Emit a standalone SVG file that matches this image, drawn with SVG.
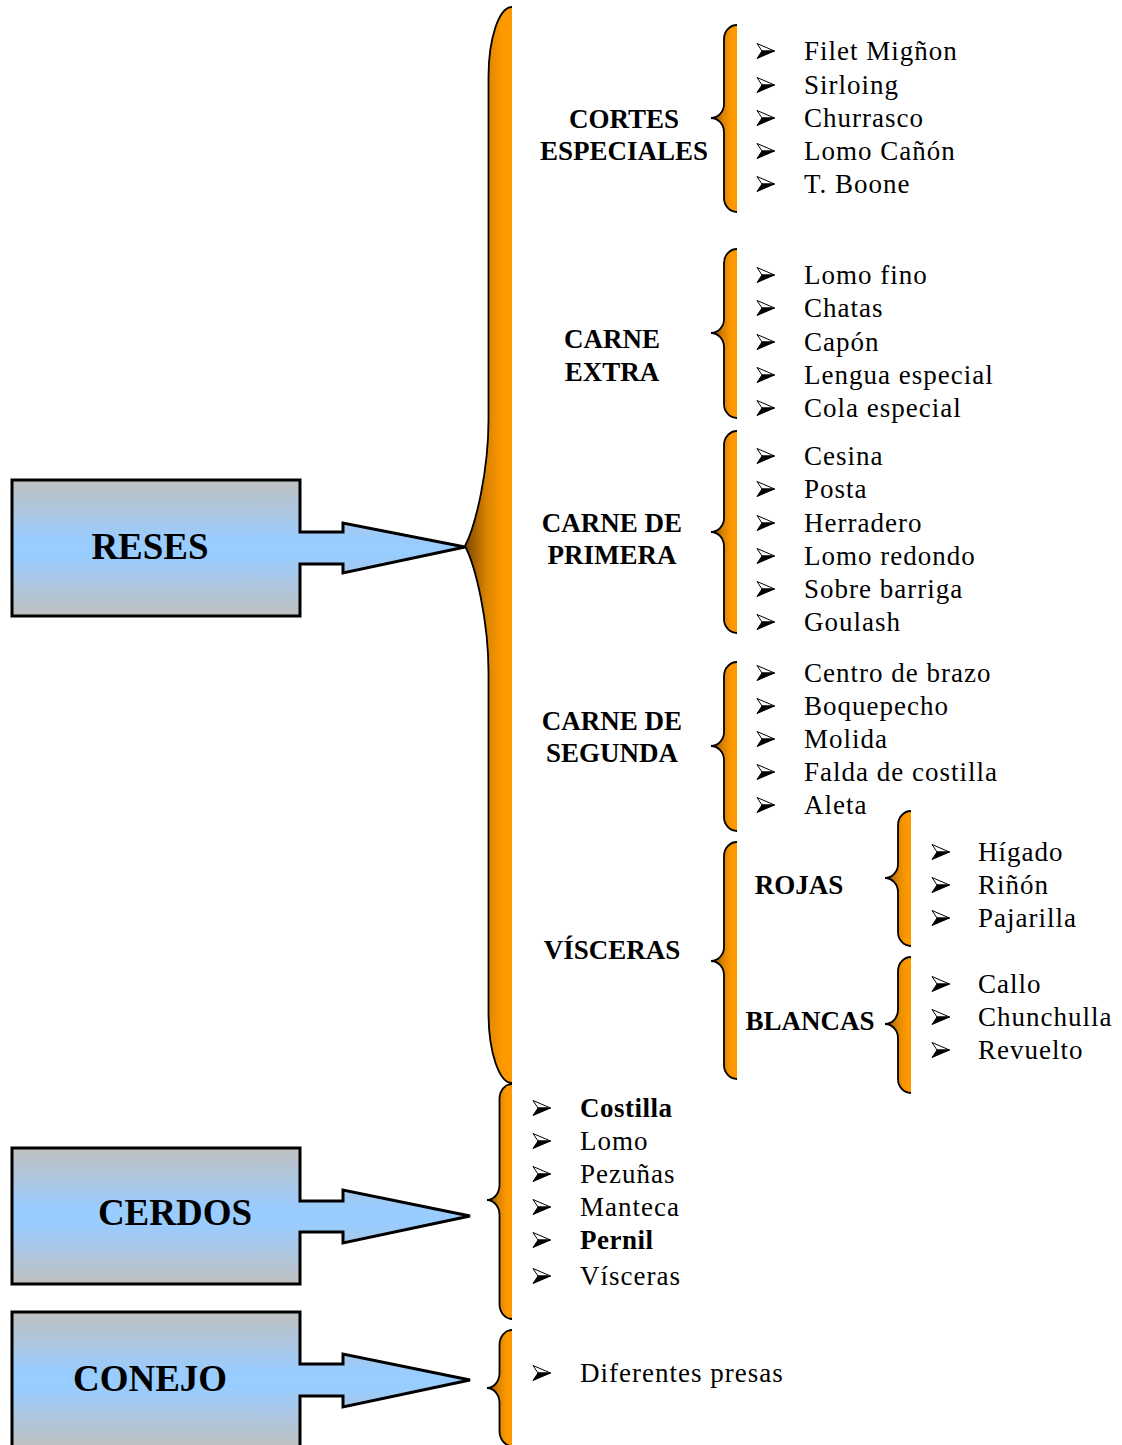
<svg xmlns="http://www.w3.org/2000/svg" width="1122" height="1445" viewBox="0 0 1122 1445">
  <defs>
    <linearGradient id="boxFill" x1="0" y1="0" x2="0" y2="1">
      <stop offset="0" stop-color="#C0C0C0"/>
      <stop offset="0.45" stop-color="#99CCFF"/>
      <stop offset="0.55" stop-color="#99CCFF"/>
      <stop offset="1" stop-color="#C0C0C0"/>
    </linearGradient>
    <linearGradient id="braceFill" x1="0" y1="0" x2="1" y2="0">
      <stop offset="0" stop-color="#7A4500"/>
      <stop offset="0.45" stop-color="#D98300"/>
      <stop offset="0.8" stop-color="#FF9900"/>
      <stop offset="1" stop-color="#FF9900"/>
    </linearGradient>
    <!-- arrowhead bullet: white upper face, black lower face -->
    <g id="bul">
      <path d="M0,-7.5 L17.5,0 L5,0 Z" fill="#fff" stroke="#000" stroke-width="1" stroke-linejoin="round"/>
      <path d="M5,0 L17.5,0 L0,7.5 Z" fill="#000" stroke="#000" stroke-width="1" stroke-linejoin="round"/>
    </g>
  </defs>
  <style>
    .box { fill: url(#boxFill); stroke: #000; stroke-width: 3; stroke-linejoin: miter; }
    .bf { fill: url(#braceFill); stroke: none; }
    .bs { fill: none; stroke: #000; stroke-width: 1.8; }
    text { font-family: "Liberation Serif", "Times New Roman", serif; fill: #000; }
    .big { font-size: 37px; font-weight: bold; text-anchor: middle; }
    .lbl { font-size: 27px; font-weight: bold; text-anchor: middle; }
    .it { font-size: 27px; letter-spacing: 1px; }
    .itb { font-size: 27px; font-weight: bold; letter-spacing: 0.5px; }
  </style>
  <rect width="1122" height="1445" fill="#fff"/>

  <!-- braces -->
  <g id="connectors">
    <g id="brace-reses">
      <path class="bf" d="M512,7 A23.5,70 0 0 0 488.5,77 L488.5,420 C488.5,470 476,525 465,546 C476,567 488.5,622 488.5,672 L488.5,1013 A23.5,70 0 0 0 512,1083 Z"/>
      <path class="bs" stroke-width="2" d="M512,7 A23.5,70 0 0 0 488.5,77 L488.5,420 C488.5,470 476,525 465,546 C476,567 488.5,622 488.5,672 L488.5,1013 A23.5,70 0 0 0 512,1083"/>
    </g>
    <g id="brace-cortes">
      <path class="bf" d="M737,25 A13,14 0 0 0 724,39 L724,104 A13,14 0 0 1 711,118 A13,14 0 0 1 724,132 L724,198 A13,14 0 0 0 737,212 Z"/>
      <path class="bs" d="M737,25 A13,14 0 0 0 724,39 L724,104 A13,14 0 0 1 711,118 A13,14 0 0 1 724,132 L724,198 A13,14 0 0 0 737,212"/>
    </g>
    <g id="brace-extra">
      <path class="bf" d="M737,249 A13,14 0 0 0 724,263 L724,319 A13,14 0 0 1 711,333 A13,14 0 0 1 724,347 L724,404 A13,14 0 0 0 737,418 Z"/>
      <path class="bs" d="M737,249 A13,14 0 0 0 724,263 L724,319 A13,14 0 0 1 711,333 A13,14 0 0 1 724,347 L724,404 A13,14 0 0 0 737,418"/>
    </g>
    <g id="brace-primera">
      <path class="bf" d="M737,431 A13,14 0 0 0 724,445 L724,518 A13,14 0 0 1 711,532 A13,14 0 0 1 724,546 L724,619 A13,14 0 0 0 737,633 Z"/>
      <path class="bs" d="M737,431 A13,14 0 0 0 724,445 L724,518 A13,14 0 0 1 711,532 A13,14 0 0 1 724,546 L724,619 A13,14 0 0 0 737,633"/>
    </g>
    <g id="brace-segunda">
      <path class="bf" d="M737,662 A13,14 0 0 0 724,676 L724,732 A13,14 0 0 1 711,746 A13,14 0 0 1 724,760 L724,817 A13,14 0 0 0 737,831 Z"/>
      <path class="bs" d="M737,662 A13,14 0 0 0 724,676 L724,732 A13,14 0 0 1 711,746 A13,14 0 0 1 724,760 L724,817 A13,14 0 0 0 737,831"/>
    </g>
    <g id="brace-visceras">
      <path class="bf" d="M737,842 A13,14 0 0 0 724,856 L724,947 A13,14 0 0 1 711,961 A13,14 0 0 1 724,975 L724,1065 A13,14 0 0 0 737,1079 Z"/>
      <path class="bs" d="M737,842 A13,14 0 0 0 724,856 L724,947 A13,14 0 0 1 711,961 A13,14 0 0 1 724,975 L724,1065 A13,14 0 0 0 737,1079"/>
    </g>
    <g id="brace-rojas">
      <path class="bf" d="M911,811 A13,14 0 0 0 898,825 L898,864 A13,14 0 0 1 885,878 A13,14 0 0 1 898,892 L898,932 A13,14 0 0 0 911,946 Z"/>
      <path class="bs" d="M911,811 A13,14 0 0 0 898,825 L898,864 A13,14 0 0 1 885,878 A13,14 0 0 1 898,892 L898,932 A13,14 0 0 0 911,946"/>
    </g>
    <g id="brace-blancas">
      <path class="bf" d="M911,957 A13,14 0 0 0 898,971 L898,1010 A13,14 0 0 1 885,1024 A13,14 0 0 1 898,1038 L898,1079 A13,14 0 0 0 911,1093 Z"/>
      <path class="bs" d="M911,957 A13,14 0 0 0 898,971 L898,1010 A13,14 0 0 1 885,1024 A13,14 0 0 1 898,1038 L898,1079 A13,14 0 0 0 911,1093"/>
    </g>
    <g id="brace-cerdos">
      <path class="bf" d="M512,1084 A12.5,15 0 0 0 499.5,1099 L499.5,1185 A12.5,15 0 0 1 487,1200 A12.5,15 0 0 1 499.5,1215 L499.5,1304 A12.5,15 0 0 0 512,1319 Z"/>
      <path class="bs" d="M512,1084 A12.5,15 0 0 0 499.5,1099 L499.5,1185 A12.5,15 0 0 1 487,1200 A12.5,15 0 0 1 499.5,1215 L499.5,1304 A12.5,15 0 0 0 512,1319"/>
    </g>
    <g id="brace-conejo">
      <path class="bf" d="M512,1330 A12.5,15 0 0 0 499.5,1345 L499.5,1373 A12.5,15 0 0 1 487,1388 A12.5,15 0 0 1 499.5,1403 L499.5,1431 A12.5,15 0 0 0 512,1446 Z"/>
      <path class="bs" d="M512,1330 A12.5,15 0 0 0 499.5,1345 L499.5,1373 A12.5,15 0 0 1 487,1388 A12.5,15 0 0 1 499.5,1403 L499.5,1431 A12.5,15 0 0 0 512,1446"/>
    </g>
  </g>

  <!-- main boxes with arrow callouts -->
  <g id="reses">
    <path class="box" d="M12,480 H300 V532 H343 V523 L465,547 L343,573 V564 H300 V616 H12 Z"/>
    <text class="big" x="150" y="559">RESES</text>
  </g>
  <g id="cerdos">
    <path class="box" d="M12,1148 H300 V1201 H343 V1190 L470,1216 L343,1243 V1232 H300 V1284 H12 Z"/>
    <text class="big" x="175" y="1225">CERDOS</text>
  </g>
  <g id="conejo">
    <path class="box" d="M12,1312 H300 V1364 H343 V1354 L470,1380 L343,1407 V1396 H300 V1448 H12 Z"/>
    <text class="big" x="150" y="1391">CONEJO</text>
  </g>

  <!-- category labels -->
  <g id="cortes-especiales">
    <text class="lbl" x="624" y="128">CORTES</text>
    <text class="lbl" x="624" y="160">ESPECIALES</text>
  </g>
  <g id="carne-extra">
    <text class="lbl" x="612" y="348">CARNE</text>
    <text class="lbl" x="612" y="381">EXTRA</text>
  </g>
  <g id="carne-primera">
    <text class="lbl" x="612" y="532">CARNE DE</text>
    <text class="lbl" x="612" y="564">PRIMERA</text>
  </g>
  <g id="carne-segunda">
    <text class="lbl" x="612" y="730">CARNE DE</text>
    <text class="lbl" x="612" y="762">SEGUNDA</text>
  </g>
  <g id="visceras">
    <text class="lbl" x="612" y="959">VÍSCERAS</text>
  </g>
  <g id="rojas">
    <text class="lbl" x="799" y="894">ROJAS</text>
  </g>
  <g id="blancas">
    <text class="lbl" x="810" y="1030">BLANCAS</text>
  </g>

  <!-- item lists -->
  <g id="items" transform="translate(0,1)">
    <g id="items-cortes">
      <use href="#bul" x="757" y="50"/><text class="it" x="804" y="59">Filet Migñon</text>
      <use href="#bul" x="757" y="84"/><text class="it" x="804" y="93">Sirloing</text>
      <use href="#bul" x="757" y="117"/><text class="it" x="804" y="126">Churrasco</text>
      <use href="#bul" x="757" y="150"/><text class="it" x="804" y="159">Lomo Cañón</text>
      <use href="#bul" x="757" y="183"/><text class="it" x="804" y="192">T. Boone</text>
    </g>
    <g id="items-extra">
      <use href="#bul" x="757" y="274"/><text class="it" x="804" y="283">Lomo fino</text>
      <use href="#bul" x="757" y="307"/><text class="it" x="804" y="316">Chatas</text>
      <use href="#bul" x="757" y="341"/><text class="it" x="804" y="350">Capón</text>
      <use href="#bul" x="757" y="374"/><text class="it" x="804" y="383">Lengua especial</text>
      <use href="#bul" x="757" y="407"/><text class="it" x="804" y="416">Cola especial</text>
    </g>
    <g id="items-primera">
      <use href="#bul" x="757" y="455"/><text class="it" x="804" y="464">Cesina</text>
      <use href="#bul" x="757" y="488"/><text class="it" x="804" y="497">Posta</text>
      <use href="#bul" x="757" y="522"/><text class="it" x="804" y="531">Herradero</text>
      <use href="#bul" x="757" y="555"/><text class="it" x="804" y="564">Lomo redondo</text>
      <use href="#bul" x="757" y="588"/><text class="it" x="804" y="597">Sobre barriga</text>
      <use href="#bul" x="757" y="621"/><text class="it" x="804" y="630">Goulash</text>
    </g>
    <g id="items-segunda">
      <use href="#bul" x="757" y="672"/><text class="it" x="804" y="681">Centro de brazo</text>
      <use href="#bul" x="757" y="705"/><text class="it" x="804" y="714">Boquepecho</text>
      <use href="#bul" x="757" y="738"/><text class="it" x="804" y="747">Molida</text>
      <use href="#bul" x="757" y="771"/><text class="it" x="804" y="780">Falda de costilla</text>
      <use href="#bul" x="757" y="804"/><text class="it" x="804" y="813">Aleta</text>
    </g>
    <g id="items-rojas">
      <use href="#bul" x="932" y="851"/><text class="it" x="978" y="860">Hígado</text>
      <use href="#bul" x="932" y="884"/><text class="it" x="978" y="893">Riñón</text>
      <use href="#bul" x="932" y="917"/><text class="it" x="978" y="926">Pajarilla</text>
    </g>
    <g id="items-blancas">
      <use href="#bul" x="932" y="983"/><text class="it" x="978" y="992">Callo</text>
      <use href="#bul" x="932" y="1016"/><text class="it" x="978" y="1025">Chunchulla</text>
      <use href="#bul" x="932" y="1049"/><text class="it" x="978" y="1058">Revuelto</text>
    </g>
    <g id="items-cerdos">
      <use href="#bul" x="533" y="1107"/><text class="itb" x="580" y="1116">Costilla</text>
      <use href="#bul" x="533" y="1140"/><text class="it" x="580" y="1149">Lomo</text>
      <use href="#bul" x="533" y="1173"/><text class="it" x="580" y="1182">Pezuñas</text>
      <use href="#bul" x="533" y="1206"/><text class="it" x="580" y="1215">Manteca</text>
      <use href="#bul" x="533" y="1239"/><text class="itb" x="580" y="1248">Pernil</text>
      <use href="#bul" x="533" y="1275"/><text class="it" x="580" y="1284">Vísceras</text>
    </g>
    <g id="items-conejo">
      <use href="#bul" x="533" y="1372"/><text class="it" x="580" y="1381">Diferentes presas</text>
    </g>
  </g>
</svg>
